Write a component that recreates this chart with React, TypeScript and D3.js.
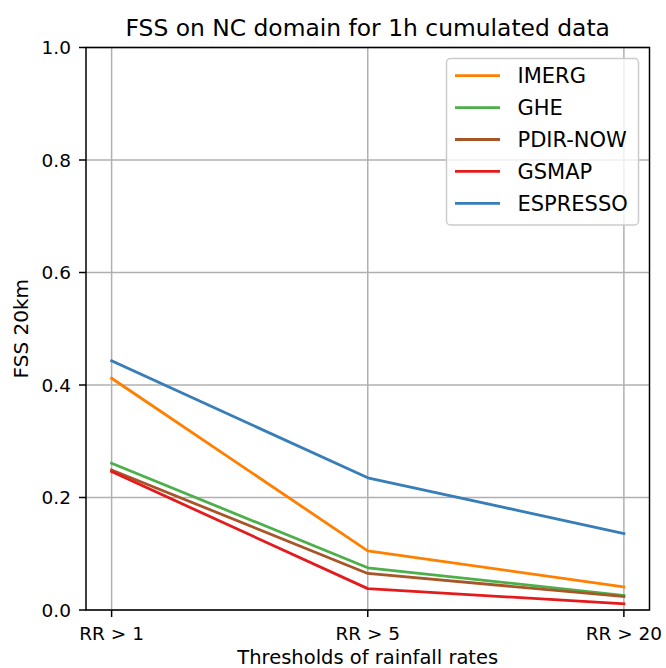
import React from "react";
import * as d3 from "d3";

const categories = ["RR > 1", "RR > 5", "RR > 20"];
const seriesNames = ["IMERG", "GHE", "PDIR-NOW", "GSMAP", "ESPRESSO"];
const imerg = [0.412, 0.105, 0.041];
const ghe = [0.261, 0.075, 0.026];
const pdirNow = [0.249, 0.065, 0.024];
const gsmap = [0.246, 0.038, 0.011];
const espresso = [0.443, 0.235, 0.136];
const seriesColors = ["#ff7f00", "#4daf4a", "#a65628", "#e41a1c", "#377eb8"];
const yTicks = [0.0, 0.2, 0.4, 0.6, 0.8, 1.0];

const W = 666;
const H = 668;
const left = 86;
const right = 649.5;
const top = 47.5;
const bottom = 610;
const FONT = "'DejaVu Sans', sans-serif";

export default function App() {
  const seriesValues = [imerg, ghe, pdirNow, gsmap, espresso];
  const x = d3.scaleLinear().domain([-0.1, categories.length - 1 + 0.1]).range([left, right]);
  const y = d3.scaleLinear().domain([0, 1]).range([bottom, top]);
  const line = d3
    .line<number>()
    .x((_, i) => x(i))
    .y((d) => y(d));

  const legX = 446.5;
  const legY = 58.5;
  const legW = 192;
  const legH = 166.5;
  const rowStart = 75.7;
  const rowGap = 31.9;

  return (
    <svg
      width={W}
      height={H}
      style={{ position: "absolute", left: 0, top: 0, display: "block", background: "#fff" }}
      fontFamily={FONT}
    >
      <rect x={0} y={0} width={W} height={H} fill="#fff" />
      {/* grid */}
      {yTicks.map((t) => (
        <line key={"gy" + t} x1={left} x2={right} y1={y(t)} y2={y(t)} stroke="#b0b0b0" strokeWidth={1.5} />
      ))}
      {categories.map((c, i) => (
        <line key={"gx" + c} x1={x(i)} x2={x(i)} y1={top} y2={bottom} stroke="#b0b0b0" strokeWidth={1.5} />
      ))}
      {/* series */}
      {seriesValues.map((vals, si) => (
        <path
          key={seriesNames[si]}
          d={line(vals) || ""}
          fill="none"
          stroke={seriesColors[si]}
          strokeWidth={2.8}
          strokeLinejoin="round"
          strokeLinecap="square"
        />
      ))}
      {/* spines */}
      <rect x={left} y={top} width={right - left} height={bottom - top} fill="none" stroke="#000" strokeWidth={1.5} />
      {/* y ticks */}
      {yTicks.map((t) => (
        <g key={"ty" + t}>
          <line x1={left - 7} x2={left} y1={y(t)} y2={y(t)} stroke="#000" strokeWidth={1.5} />
          <text x={left - 15} y={y(t) + 6.7} textAnchor="end" fontSize={18.5} fill="#000">
            {d3.format(".1f")(t)}
          </text>
        </g>
      ))}
      {/* x ticks */}
      {categories.map((c, i) => (
        <g key={"tx" + c}>
          <line x1={x(i)} x2={x(i)} y1={bottom} y2={bottom + 7} stroke="#000" strokeWidth={1.5} />
          <text x={x(i)} y={639.5} textAnchor="middle" fontSize={18.5} fill="#000">
            {c}
          </text>
        </g>
      ))}
      {/* labels */}
      <text x={(left + right) / 2} y={36} textAnchor="middle" fontSize={23.4} fill="#000">
        FSS on NC domain for 1h cumulated data
      </text>
      <text x={(left + right) / 2} y={663.5} textAnchor="middle" fontSize={19.5} fill="#000">
        Thresholds of rainfall rates
      </text>
      <text
        transform={`translate(27.5, ${(top + bottom) / 2}) rotate(-90)`}
        textAnchor="middle"
        fontSize={20}
        fill="#000"
      >
        FSS 20km
      </text>
      {/* legend */}
      <rect
        x={legX}
        y={legY}
        width={legW}
        height={legH}
        rx={4}
        ry={4}
        fill="#fff"
        fillOpacity={0.8}
        stroke="#cccccc"
        strokeWidth={1.5}
      />
      {seriesNames.map((n, i) => {
        const ry = rowStart + i * rowGap;
        return (
          <g key={"leg" + n}>
            <line x1={455} x2={500} y1={ry} y2={ry} stroke={seriesColors[i]} strokeWidth={2.8} />
            <text x={517.5} y={ry + 7.6} fontSize={21} fill="#000">
              {n}
            </text>
          </g>
        );
      })}
    </svg>
  );
}
